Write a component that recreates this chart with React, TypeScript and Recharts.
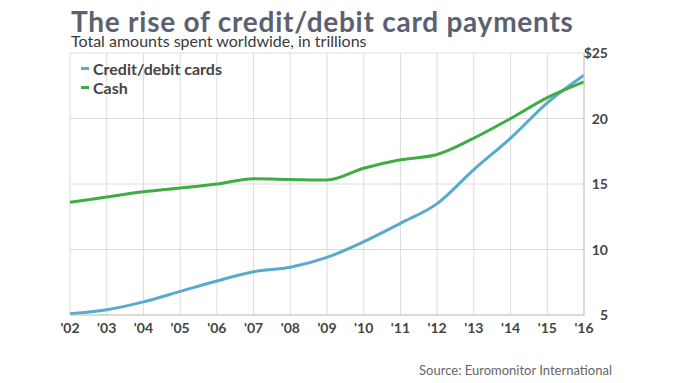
import { LineChart, Line, XAxis, YAxis, CartesianGrid } from "recharts";

const years = ["'02", "'03", "'04", "'05", "'06", "'07", "'08", "'09", "'10", "'11", "'12", "'13", "'14", "'15", "'16"];
const creditCards = [5.1, 5.4, 6.0, 6.8, 7.6, 8.3, 8.65, 9.4, 10.6, 12.0, 13.5, 16.1, 18.5, 21.2, 23.3];
const cash = [13.6, 14.0, 14.4, 14.7, 15.0, 15.4, 15.35, 15.3, 16.2, 16.85, 17.25, 18.5, 20.0, 21.6, 22.8];
const yTicks = [5, 10, 15, 20, 25];

const data = years.map((year, i) => ({ year, credit: creditCards[i], cash: cash[i] }));

const FONT = "Lato, 'Open Sans', sans-serif";

// right axis labels are right-aligned next to the plot
const YTick = (props: any) => {
  const { y, payload } = props;
  const v = payload.value;
  return (
    <text x={608} y={y} dy={5} textAnchor="end" fill="#444" fontSize={14} fontWeight={700} fontFamily={FONT}>
      {v === 25 ? "$25" : String(v)}
    </text>
  );
};

export default function App() {
  return (
    <div style={{ position: "relative", width: 680, height: 383, background: "#fff", fontFamily: FONT, overflow: "hidden" }}>
      <style>{`body{margin:0}`}</style>
      <div style={{ position: "absolute", left: 71, top: 8, fontSize: 28, lineHeight: "26px", fontWeight: 700, color: "#5b6170", letterSpacing: 0.75, whiteSpace: "nowrap" }}>
        The rise of credit/debit card payments
      </div>
      <div style={{ position: "absolute", left: 71, top: 34, fontSize: 16, lineHeight: "14px", color: "#3a3a3a", whiteSpace: "nowrap" }}>
        Total amounts spent worldwide, in trillions
      </div>

      <LineChart width={680} height={383} data={data} margin={{ top: 53, right: 56, left: 70, bottom: 38 }}>
        <CartesianGrid stroke="#dcdcdc" strokeWidth={1} />
        <XAxis
          dataKey="year"
          axisLine={{ stroke: "#c8c8c8" }}
          tickLine={false}
          height={30}
          tick={{ fill: "#444", fontSize: 14, fontWeight: 700, fontFamily: FONT }}
          tickMargin={2}
          interval={0}
        />
        <YAxis
          orientation="right"
          domain={[5, 25]}
          ticks={yTicks}
          width={40}
          axisLine={{ stroke: "#c8c8c8" }}
          tickLine={false}
          tick={YTick}
        />
        <Line type="monotone" dataKey="credit" stroke="#5aa9cf" strokeWidth={3} dot={false} isAnimationActive={false} />
        <Line type="monotone" dataKey="cash" stroke="#3fac45" strokeWidth={3} dot={false} isAnimationActive={false} />
      </LineChart>

      <div style={{ position: "absolute", left: 81, top: 59, fontSize: 16, fontWeight: 700, color: "#444", lineHeight: "19px" }}>
        <div style={{ display: "flex", alignItems: "center" }}>
          <span style={{ display: "inline-block", width: 8, height: 3, background: "#5aa9cf", marginRight: 4 }} />
          Credit/debit cards
        </div>
        <div style={{ display: "flex", alignItems: "center" }}>
          <span style={{ display: "inline-block", width: 8, height: 3, background: "#3fac45", marginRight: 4 }} />
          Cash
        </div>
      </div>

      <div style={{ position: "absolute", right: 68, top: 362, fontSize: 13, color: "#666", whiteSpace: "nowrap" }}>
        Source: Euromonitor International
      </div>
    </div>
  );
}
